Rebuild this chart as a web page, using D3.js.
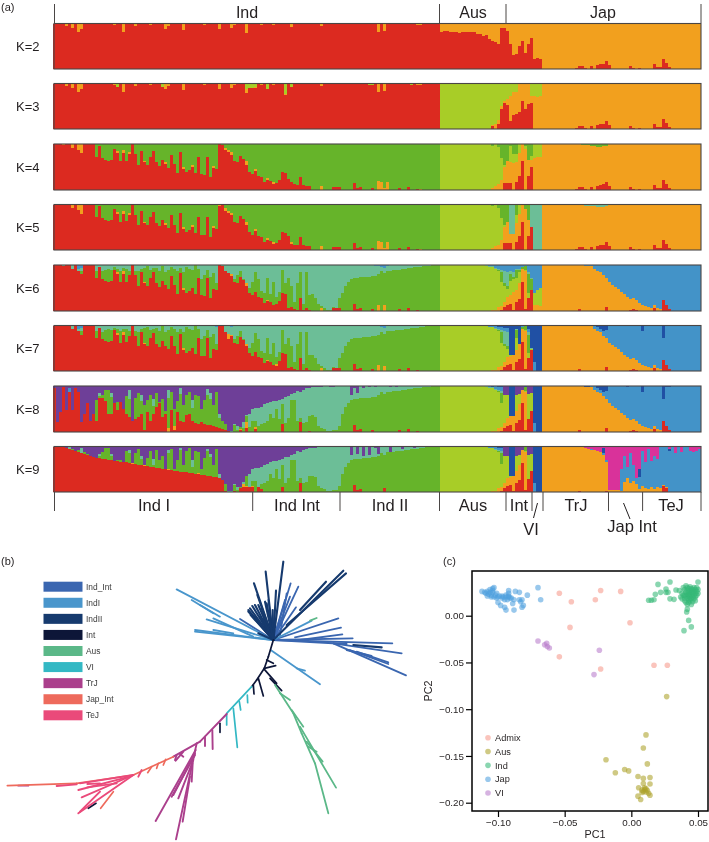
<!DOCTYPE html>
<html><head><meta charset="utf-8">
<script src="https://cdn.jsdelivr.net/npm/d3@7"></script>
<style>html,body{margin:0;padding:0;background:#fff}svg{display:block;filter:blur(0.35px)}text{font-family:"Liberation Sans",Arial,sans-serif;fill:#231f20}</style>
</head><body><svg id="c" width="709" height="842"></svg>
<script>
// ---------- (a) admixture bars: each array is the top edge (%) of a colour in a column ----------
const N=216;
const Ks=["K=2","K=3","K=4","K=5","K=6","K=7","K=8","K=9"];
const topGroups=["Ind","Aus","Jap"];
const bottomGroups=["Ind I","Ind Int","Ind II","Aus","Int","TrJ","TeJ"];
const patch=(a,p)=>{const b=a.slice();p.forEach(q=>{if(q.length===2)b[q[0]]=q[1];else for(let i=q[0];i<=q[1];i++)b[i]=q[2];});return b;};
const row=(i,m,j)=>[...i,...m,...j];
const I=v=>Array(129).fill(v),M=v=>Array(34).fill(v),J=v=>Array(53).fill(v);

const japSpikesA=[[174,3],[175,6],[176,6],[177,3],[179,6],[181,8],[182,10],[183,12],[184,18],[185,8],[192,6],[193,3],[195,3],[200,10],[201,4],[202,4],[203,22],[204,14],[205,4]];
const japSpikesB=[[175,5],[184,8],[192,3],[193,4],[194,3],[200,7],[203,24],[204,14],[205,4]];
const indTips=[[4,95],[6,90],[8,82],[9,88],[18,98],[19,98],[20,97],[23,82],[27,95],[29,98],[32,96],[37,88],[38,94],[43,86],[50,96],[55,88],[59,90],[60,96],[64,80],[69,96],[73,96],[79,93],[89,95],[108,82],[110,84],[121,96],[122,97]];

const midRed2=[82,83,83,82,81,81,80,82,81,81,81,82,78,76,72,75,66,62,60,56,91,90,84,56,30,34,50,62,36,55,68,22,24,22].slice(0,34);
const red2=patch(row(I(100),midRed2,J(0)),[...indTips,...japSpikesA]);

const midRed3=[0,0,0,0,0,0,0,0,0,0,0,0,0,0,0,0,0,6,0,10,45,58,52,18,30,34,38,62,44,56,58,0,0,0];
const midOr3=[0,0,0,0,0,0,0,0,0,0,0,0,0,0,0,0,0,8,10,20,50,62,66,72,82,82,100,100,100,100,72,72,70,72];
const red3=patch(row(I(100),midRed3,J(0)),[...indTips,[21,92],[36,92],[64,80],[65,90],[66,90],[67,90],[71,88],[77,75],[79,93],[105,96],[106,97],[112,98],[119,97],...japSpikesA]);
const or3=patch(row(I(100),midOr3,J(100)),[[21,92],[36,92],[64,88],[65,90],[66,90],[67,92],[71,88],[77,76],[79,93],[105,96],[106,97],[112,98],[119,97],[176,99],[178,99],[192,99],[198,99],[203,99]]);

const indRed4=[100,100,100,98,100,100,92,100,88,80,100,100,100,100,
 72,95,70,66,63,66,90,80,62,80,64,78,100,78,54,85,60,54,72,84,60,52,66,56,48,76,56,38,82,46,40,44,50,38,72,34,32,72,28,48,46,
 100,98,86,82,76,62,60,74,68,55,40,34,42,30,28,18,22,20,14,16,22,40,38,24,18,12,10,28,10,8,8,
 0,0,0,0,0,0,0,6,7,6,0,0,0,0,16,5,6,0,0,0,4,0,0,0,0,0,0,0,0,5,0,0,6,0,0,3,0,0,0,0,0,0,0];
const midRed4=[0,0,0,0,0,0,0,0,0,0,0,0,0,0,0,0,0,0,0,0,0,15,16,16,0,18,30,62,0,30,50,0,0,0];
const midOr4=[0,0,0,0,0,0,0,0,0,0,0,0,0,0,0,0,0,5,8,12,22,50,62,60,58,60,80,100,90,65,65,70,72,72];
const midLi4=[100,100,100,100,100,100,100,100,100,100,100,100,100,100,100,100,100,96,100,93,70,55,60,95,78,78,100,100,95,65,75,100,100,100];
const red4=patch(row(indRed4.slice(0,129),midRed4,J(0)),japSpikesA);
const indOrangeTips=[[0,13,100],[21,84],[23,86],[25,82],[30,62],[37,60],[43,50],[46,54],[53,52],[57,92],[58,86],[59,82],[64,62],[67,46],[71,26],[73,18],[89,8],[108,20],[109,18],[110,4],[111,18],[122,3]];
const or4=patch(red4,[...indOrangeTips,...midOr4.map((v,i)=>[129+i,v]),[163,175,100]]);
const or4Full=patch(or4,[[163,215,100],[176,98],[177,97],[178,97],[179,96],[180,96],[181,94],[182,94],[183,95],[184,96],[192,99],[198,99],[203,99]]);
const li4=row(I(0),midLi4,J(0));

const red5=patch(red4,[[15,97],[55,96],[79,14],[78,30]]);
const or5=patch(or4Full,[[152,35],[153,35],[159,50],[160,162,0],[55,100],[56,100]]);
const li5=patch(li4,[[152,35],[153,35],[159,50],[160,162,0],[157,72]]);
const gr5=patch(row(I(100),M(100),J(0)),[[6,98],[9,92],[55,94],[59,98],[107,99],[146,98],[147,97],[152,35],[153,35],[155,90],[159,50],[160,162,0]]);

const indGreen6=[0,0,0,0,0,0,0,0,0,88,0,0,0,0,
 88,85,86,90,92,90,95,92,88,93,92,88,100,88,86,92,94,97,90,93,94,88,98,85,90,96,92,86,93,85,96,92,90,100,92,70,78,90,75,82,60,
 100,94,85,78,72,70,78,88,70,60,50,62,84,70,44,40,72,38,62,30,42,90,60,72,55,20,60,85,15,85,35,36,28,16,10,6,3,2,8,4,28,40,55,64,70,72,72,73,74,74,75,76,77,80,86,82,87,88,89,90,90,91,92,93,94,95,95,96,97,98,98,99,100,100];
const red6Ind=patch(indRed4.slice(0,129),[[78,6],[79,8],[80,5],[81,3],[83,3],[84,6],[85,3],[89,0],[108,0],[110,0]]);
const midRed6=[0,0,0,0,0,0,0,0,0,0,0,0,0,0,0,0,0,0,0,0,2,8,14,16,2,20,26,64,4,28,46,0,0,0];
const midOr6=[0,0,0,0,0,0,0,0,0,0,0,0,0,0,0,0,1,2,3,8,10,20,30,34,42,46,60,92,88,28,46,14,12,10];
const midLi6=[100,100,100,100,100,100,100,100,100,100,100,100,100,100,100,98,96,96,92,88,62,55,48,66,70,72,85,92,90,40,46,40,45,50];
const midGr6=[100,100,100,100,100,100,100,100,100,100,100,100,100,100,100,98,96,96,92,90,85,60,55,80,75,90,90,96,98,80,70,40,45,50];
const midSe6=[100,100,100,100,100,100,100,100,100,100,100,100,100,100,100,99,97,97,94,92,90,88,85,88,85,92,92,96,98,85,72,40,45,50];
const japOr6=[100,100,100,100,100,100,100,100,100,100,100,100,100,100,98,98,98,92,88,85,78,72,62,57,53,48,42,36,30,27,28,24,18,14,10,9,7,14,6,4,24,14,4,1,0,0,0,0,0,0,0,0,0];
const red6=row(red6Ind,midRed6,patch(J(0),japSpikesB.map(p=>[p[0]-163,p[1]])));
const or6=patch(red6,[[89,6],[108,14],[110,12],[21,84],[23,86],[30,62],[43,50],[59,80],[64,60],[71,24],...midOr6.map((v,i)=>[129+i,v]),...japOr6.map((v,i)=>[163+i,v])]);
const li6=row(I(0),midLi6,J(0));
const gr6=row(indGreen6.slice(0,129),midGr6,J(0));
const se6=patch(row(I(100),midSe6,J(0)),[[5,96],[8,92],[9,94],[55,98],[107,98],[108,98],[109,96],[110,94],[111,98]]);

const red7=patch(red6,[[58,70],[74,12]]);
const or7=patch(or6,[[152,34],[153,35],[160,162,0]]);
const li7=patch(li6,[[152,35],[153,35],[155,50],[159,48],[160,162,0]]);
const gr7=patch(gr6,[[152,35],[153,35],[155,50],[159,48],[160,162,0]]);
const se7=patch(se6,[[152,35],[153,35],[155,50],[159,50],[160,162,0],[54,97],[57,98],[59,97]]);
const midBl7=[100,100,100,100,100,100,100,100,100,100,100,100,100,100,100,99,100,98,100,97,97,95,95,35,35,93,50,100,96,92,50,20,0,0];
const japBl7=[100,100,100,100,100,100,100,100,100,100,100,100,100,100,98,98,99,100,96,92,88,90,100,100,100,100,100,100,98,100,100,100,100,88,100,100,100,100,100,100,72,98,98,100,100,100,100,100,100,100,100,100,100];
const bl7=patch(row(I(100),midBl7,japBl7),[[54,98],[60,97]]);

const indRed8=[95,22,44,97,47,87,47,95,87,22,40,62,25,40,25,73,73,68,40,40,62,47,65,51,40,33,25,29,33,40,5,44,25,40,55,62,33,40,0,47,4,44,25,22,36,40,25,20,18,22,18,15,15,12,10,8,6,4,2,
 0,0,0,4,0,8,0,0,6,0,0,0,0,0,0,0,0,18,0,0,0,0,0,22,0,0,3,0,0,0,0,0,0,0,0,0,0,0,0,0,0,16,5,6,0,0,0,4,0,0,0,0,0,0,0,0,5,0,0,6,0,0,3,0,0,0,0,0,0,0];
const greenLate8=[0,0,15,5,10,8,35,10,25,25,12,18,20,25,40,30,50,28,60,20,30,70,70,25,30,20,22,35,36,32,14,8,6,2,2,4,4,14];
const indGreen8=[0,0,0,0,0,0,0,0,0,0,0,0,0,0,70,78,80,92,92,76,0,66,62,0,78,72,0,74,84,68,58,70,80,56,84,66,72,45,74,86,50,68,82,58,80,86,52,80,78,50,70,80,72,58,86,30,25,18,
 ...greenLate8,...indGreen6.slice(96,129)];
const indGreen9=[0,0,0,0,0,0,0,0,0,0,0,0,0,0,70,80,88,96,96,80,0,70,70,0,90,85,0,85,95,72,60,75,90,60,92,70,80,45,85,95,50,70,92,60,90,96,55,90,88,50,75,90,78,60,95,30,25,18,
 ...greenLate8,...indGreen6.slice(96,129)];
const purpleFloor8=[[58,2],[59,3],[60,18],[61,12],[62,10],[63,22],[64,36],[65,40],[66,50],[67,52],[68,52],[69,55],[70,60],[71,62],[72,66],[73,68],[74,68],[75,70],[76,72],[77,76],[78,78],[79,82],[80,84],[81,90],[82,88],[83,92],[84,95],[85,96],[86,97],[87,97],[88,98],[89,98],[90,99],[91,99],[92,98],[93,98],[94,99],[95,99],[96,128,100],
 [99,80],[100,96],[101,84],[103,96],[105,97],[107,97],[112,98],[114,98]];
const seafoamSpikes8=[[15,84],[19,84],[25,92],[29,80],[33,72],[38,92],[42,96],[46,70],[51,94],[52,84],[55,40]];
const ceil8=[[150,80],[151,80],[154,80],[155,82],[156,82],[158,82],[159,84]];
const red8=row(indRed8.slice(0,129),red7.slice(129,163),red7.slice(163));
const or8=patch(red8,[[3,98],[22,58],[38,8],[40,12],[62,6],[64,22],[67,10],...or7.slice(129).map((v,i)=>[129+i,v])]);
const li8=patch(li7,ceil8);
const gr8=patch(row(indGreen8.slice(0,129),gr7.slice(129,163),J(0)),ceil8);
const se8=patch(patch(gr8,purpleFloor8),[...seafoamSpikes8,...ceil8,...se7.slice(129,150).map((v,i)=>[129+i,v]),[152,35],[153,35],[157,98],[160,162,0],[163,215,0]]);
const bl8=patch(bl7,[[0,128,0],...ceil8,[5,96],[7,90]]);
const nv8=patch(row(I(0),M(100),J(100)),[...ceil8]);

const indRed9=[100,100,100,98,96,94,92,90,88,85,83,81,79,77,75,74,73,72,71,70,69,68,67,66,65,63,62,61,60,59,58,57,56,54,53,52,51,50,49,48,47,46,45,44,43,42,41,40,39,38,37,36,35,34,33,30,26,2,
 0,0,2,0,8,12,10,10,10,0,10,6,0,0,0,0,0,0,12,0,0,0,0,0,20,0,0,0,0,0,0,0,0,0,0,0,0,0,0,0,0,0,16,5,6,0,0,0,0,0,0,0,8,0,0,0,0,0,0,0,0,0,0,0,0,0,0,0,0,0,0];
const japOr9=[100,100,100,100,100,100,100,100,100,100,100,100,98,98,97,94,93,92,90,87,82,66,4,4,4,4,2,22,30,20,25,18,6,14,8,6,10,6,10,8,15,10,0,0,0,0,0,0,0,0,0,0,0];
const japBl9=[100,100,100,100,100,100,100,100,100,100,100,100,100,98,97,94,94,75,90,85,85,70,4,4,4,4,50,80,55,85,60,30,34,90,65,95,68,80,72,100,100,100,90,100,85,100,88,100,100,90,88,90,94];
const red9=patch(row(indRed9.slice(0,129),red8.slice(129,163),J(0)),[[203,14],[204,8],[175,3],[184,2]]);
const or9=patch(red9,[[10,84],[26,63],[30,60],[38,51],[48,41],[55,31],[63,18],[64,14],[66,14],...or8.slice(129,163).map((v,i)=>[129+i,v]),...japOr9.map((v,i)=>[163+i,v])]);
const li9=li8;
const gr9=patch(row(indGreen9.slice(0,129),gr8.slice(129,163),J(0)),[[3,97],[4,96],[6,95],[8,92],[10,88],[11,84]]);
const se9=patch(se8,[[5,98],[9,96],[99,82],[100,98],[101,84],[103,80],[105,82],[108,84],[112,88],[116,94],[120,96]]);
const bl9=row(bl8.slice(0,129),bl8.slice(129,163),japBl9);
const nv9=patch(row(I(0),nv8.slice(129,163),japBl9),[[183,96],[195,50],[203,100],[204,100],[205,94]]);
const pu9=patch(row(I(100),M(100),japBl9),[[183,96],[195,50],[203,100],[204,100],[205,94]]);

const palette={red:"#dc2a20",orange:"#f2a01e",lime:"#a8cd27",green:"#66b42a",seafoam:"#6cbe97",blue:"#4393c8",navy:"#2050a4",purple:"#6e3f98",magenta:"#d9329a"};
const panels=[
 {k:0,y0:23.5,y1:69,layers:[["red",red2],["orange",null]]},
 {k:1,y0:83.5,y1:129,layers:[["red",red3],["orange",or3],["lime",null]]},
 {k:2,y0:144,y1:190,layers:[["red",red4],["orange",or4Full],["lime",li4],["green",null]]},
 {k:3,y0:204.5,y1:250,layers:[["red",red5],["orange",or5],["lime",li5],["green",gr5],["seafoam",null]]},
 {k:4,y0:265,y1:311,layers:[["red",red6],["orange",or6],["lime",li6],["green",gr6],["seafoam",se6],["blue",null]]},
 {k:5,y0:325.5,y1:371,layers:[["red",red7],["orange",or7],["lime",li7],["green",gr7],["seafoam",se7],["blue",bl7],["navy",null]]},
 {k:6,y0:386,y1:432,layers:[["red",red8],["orange",or8],["lime",li8],["green",gr8],["seafoam",se8],["blue",bl8],["navy",nv8],["purple",null]]},
 {k:7,y0:446.5,y1:492,layers:[["red",red9],["orange",or9],["lime",li9],["green",gr9],["seafoam",se9],["blue",bl9],["navy",nv9],["purple",pu9],["magenta",null]]}
];
// ---------- (b) tree: branches per clade [x1,y1,x2,y2] in tree units ----------
const cladeNames=["Ind_Int","IndI","IndII","Int","Aus","VI","TrJ","Jap_Int","TeJ"];
const cladeColors=["#3a66b0","#4996cc","#163a6e","#0d1638","#5bb888","#33b8c4","#ab3f8c","#ee6a5c","#ea4a7a"];
const indIntB=[[820,270,872,100],[820,270,895,110],[820,270,855,150],[820,270,888,172],[820,270,720,207],[820,270,805,150],[820,270,1015,205],[885,262,1023,233],[900,270,1027,253],[820,270,1058,265],[820,270,1177,280],[1000,280,1205,310],[1000,280,1218,376],[1050,300,1165,342],[1040,300,1115,318],[820,270,1040,282],[1070,305,1165,337],[840,255,860,130],[820,270,870,140],[820,270,850,200]];
const indIB=[[820,270,530,118],[575,150,640,190],[600,165,660,200],[820,270,620,208],[820,270,585,240],[820,270,585,245],[700,250,640,240],[812,300,960,403],[890,355,915,362],[820,270,935,212],[760,260,640,205]];
const indIIB=[[820,270,850,35],[820,270,797,65],[820,270,762,100],[820,270,772,135],[820,270,745,180],[820,270,750,175],[820,270,757,168],[820,270,765,165],[820,270,775,165],[820,270,785,175],[820,270,795,155],[820,270,800,160],[820,270,818,180],[820,270,828,122],[820,270,1030,62],[860,225,1038,70],[900,180,978,95],[820,270,775,250],[820,270,745,185],[820,270,752,195],[820,270,765,200],[820,270,780,200],[820,270,790,210],[820,270,805,190],[1060,285,1145,292]];
const intB=[[820,270,805,320],[805,320,793,355],[793,355,770,390],[770,390,755,410],[793,355,827,347],[800,330,820,340],[793,358,830,400],[810,385,845,422],[775,385,790,438],[760,405,762,432],[660,520,660,547],[265,775,288,760]];
const ausB=[[825,405,880,490],[880,490,905,550],[905,550,945,640],[945,640,985,790],[840,430,870,450],[875,480,910,530],[900,530,1008,713],[920,575,968,635],[925,590,950,605],[930,212,950,204]];
const viB=[[755,410,680,490],[742,435,743,458],[718,455,722,480],[700,475,712,592],[680,492,680,525]];
const trjB=[[680,492,600,575],[600,575,520,620],[637,540,638,597],[615,560,615,588],[590,580,528,868],[587,600,467,813],[585,615,515,740],[580,630,535,745],[578,640,575,695],[570,680,548,815],[550,605,527,632],[540,612,550,620],[530,615,525,630],[585,610,520,735],[55,707,85,707]];
const japIntB=[[520,620,400,675],[497,628,490,645],[475,640,470,655],[455,650,443,668],[340,725,302,775],[400,675,230,700],[230,700,22,707]];
const tejB=[[400,675,235,790],[400,675,245,742],[380,682,235,720],[300,700,262,702],[425,660,415,680],[300,725,240,785],[350,700,262,712],[400,675,240,700],[230,703,170,708]];
const branches=[indIntB,indIB,indIIB,intB,ausB,viB,trjB,japIntB,tejB];
const cladeWidths=[1.8,1.8,2.1,1.7,1.8,1.7,1.9,1.7,1.9];
// ---------- (c) PCA ----------
const pcaGroups=["Admix","Aus","Ind","Jap","VI"];
const pcaColors=["#f79a8b","#aca22a","#35b877","#4fa0de","#b97ccb"];
const admix=[[-.054,.024],[-.045,.015],[-.023,.027],[-.027,.017],[-.008,.026],[-.001,-.0075],[-.046,-.0125],[-.054,-.044],[-.023,-.057],[.017,-.053],[.027,-.053]];
const aus=[[.0265,-.0865],[.011,-.1275],[.009,-.1415],[-.019,-.154],[-.012,-.168],[-.005,-.1645],[-.002,-.166],[.012,-.1585],[.005,-.172],[.009,-.174],[.014,-.173],[.009,-.1795],[.010,-.184],[.0055,-.184],[.008,-.1865],[.010,-.186],[.011,-.185],[.009,-.188],[.012,-.187],[.008,-.189],[.014,-.180],[.013,-.190],[.014,-.192],[.005,-.193],[.007,-.1965],[.011,-.1885]];
const ind=[[.020,.0335],[.029,.036],[.050,.036],[.022,.025],[.026,.0285],[.0275,.025],[.018,.023],[.017,.017],[.013,.0165],[.015,.0165],[.029,.018],[.032,.0175],[.026,.025],[.0335,.0275],[.0415,.004],[.042,.007],[.043,-.005],[.045,-.012],[.0395,-.016],
[.036,.027],[.037,.020],[.038,.018],[.038,.024],[.039,.030],[.039,.022],[.040,.028],[.040,.019],[.040,.016],[.041,.025],[.041,.021],[.041,.032],[.041,.014],[.042,.027],[.042,.023],[.042,.019],[.042,.012],[.043,.029],[.043,.025],[.043,.021],[.043,.017],[.043,.014],[.044,.031],[.044,.027],[.044,.023],[.044,.020],[.044,.016],[.045,.029],[.045,.025],[.045,.022],[.045,.018],[.045,.012],[.046,.028],[.046,.024],[.046,.020],[.046,.015],[.047,.030],[.047,.026],[.047,.022],[.047,.018],[.048,.028],[.048,.024],[.048,.020],[.048,.016],[.049,.030],[.049,.026],[.049,.022],[.050,.028],[.050,.024],[.040,.022],[.042,.030],[.044,.018],[.046,.026],[.043,.023]];
const jap=[[-.112,.026],[-.109,.024],[-.108,.026],[-.106,.028],[-.105,.022],[-.104,.025],[-.104,.029],[-.103,.030],[-.108,.021],[-.105,.020],[-.102,.022],[-.101,.024],[-.100,.020],[-.099,.021],[-.097,.019],[-.096,.020],[-.094,.022],[-.092,.024],[-.092,.027],[-.091,.019],[-.093,.017],[-.095,.017],[-.100,.014],[-.098,.011],[-.095,.009],[-.094,.006],[-.087,.026],[-.084,.025],[-.088,.017],[-.084,.017],[-.083,.015],[-.082,.017],[-.081,.011],[-.082,.009],[-.088,.006],[-.078,.022],[-.092,.021],[-.090,.019],[-.089,.013],[-.106,.025],[-.107,.023],[-.104,.027],[-.103,.020],[-.101,.019],[-.097,.021],[-.094,.020],[-.092,.020],[-.110,.025],[-.070,.030],[-.068,.017]];
const vi=[[-.070,-.027],[-.0635,-.0295],[-.065,-.031],[-.063,-.033],[-.0615,-.0345],[-.024,-.037],[-.028,-.063]];
const pcaData=[admix,aus,ind,jap,vi];
const pc1Ticks=[-.10,-.05,0,.05], pc2Ticks=[0,-.05,-.10,-.15,-.20];

// ---------- drawing ----------
const svg=d3.select("#c");
const txt=(g,x,y,s,size,anchor)=>g.append("text").attr("x",x).attr("y",y).attr("font-size",size).attr("text-anchor",anchor||"start").text(s);
const xb=d3.scaleBand(d3.range(N),[53,701]);
panels.forEach(p=>{
  const y=d3.scaleLinear([0,100],[p.y1,p.y0]);
  const g=svg.append("g");
  const segs=[];
  d3.range(N).forEach(c=>{
    let low=0;
    p.layers.forEach(([name,arr],i)=>{
      const t=arr?Math.max(low,Math.min(100,arr[c]||0)):100;
      if(t>low)segs.push({c,name,low,t});
      low=t;
    });
  });
  g.selectAll("rect").data(segs).join("rect")
   .attr("x",d=>xb(d.c)).attr("width",xb.bandwidth()+.3)
   .attr("y",d=>y(d.t)).attr("height",d=>y(d.low)-y(d.t))
   .attr("fill",d=>palette[d.name]).attr("shape-rendering","crispEdges");
  g.append("rect").attr("x",54).attr("y",p.y0).attr("width",647).attr("height",p.y1-p.y0)
   .attr("fill","none").attr("stroke","#4a4645").attr("stroke-width",1.1);
  txt(svg,16,(p.y0+p.y1)/2+5,Ks[p.k],13);
});
txt(svg,1,11,"(a)",11);
const tickLine=(x,y0,y1)=>svg.append("line").attr("x1",x).attr("x2",x).attr("y1",y0).attr("y2",y1).attr("stroke","#4a4645").attr("stroke-width",1);
const topTicks=[54.5,439.5,506,701], botTicks=[54.5,252.7,340,439.5,506,532,543,608.5,642.6,701];
topTicks.forEach(x=>tickLine(x,4,23));
botTicks.forEach(x=>tickLine(x,492,511));
const topCenters=[247,473,603], botCenters=[154,297,390,473,519,576,671];
topGroups.forEach((s,i)=>txt(svg,topCenters[i],17.5,s,16,"middle"));
bottomGroups.forEach((s,i)=>txt(svg,botCenters[i],511,s,16.5,"middle"));
txt(svg,531,535,"VI",16.5,"middle");
txt(svg,632,531.5,"Jap Int",16.5,"middle");
svg.append("line").attr("x1",537.5).attr("y1",503).attr("x2",533.5).attr("y2",518).attr("stroke","#231f20");
svg.append("line").attr("x1",623.5).attr("y1",503).attr("x2",630).attr("y2",519).attr("stroke","#231f20");

// tree
txt(svg,1,565,"(b)",11);
const tx=d3.scaleLinear([0,1290],[0,430]), ty=d3.scaleLinear([0,876],[550,842]);
branches.forEach((list,i)=>{
  svg.append("g").selectAll("line").data(list).join("line")
   .attr("x1",d=>tx(d[0])).attr("y1",d=>ty(d[1])).attr("x2",d=>tx(d[2])).attr("y2",d=>ty(d[3]))
   .attr("stroke",cladeColors[i]).attr("stroke-width",cladeWidths[i]).attr("stroke-linecap","round");
});
const legY=d3.scalePoint(cladeNames,[586.7,715.3]);
cladeNames.forEach((n,i)=>{
  svg.append("rect").attr("x",43.5).attr("y",legY(n)-5).attr("width",39).attr("height",10).attr("fill",cladeColors[i]);
  txt(svg,86,legY(n)+3,n,8.4).style("fill","#3a3a3a");
});

// PCA
txt(svg,443,565,"(c)",11);
const px=d3.scaleLinear([-.10,.05],[498,698]), py=d3.scaleLinear([0,-.20],[615.7,802.7]);
const fmt=v=>(v<0?"\u2212":"")+Math.abs(v).toFixed(2);
svg.append("g").attr("transform","translate(0,811)").call(d3.axisBottom(px).tickValues(pc1Ticks).tickFormat(fmt).tickSize(6).tickPadding(2))
 .call(g=>{g.select(".domain").remove();g.selectAll("text").attr("font-size",9.8);g.selectAll("line").attr("stroke-width",1.2);});
svg.append("g").attr("transform","translate(472,0)").call(d3.axisLeft(py).tickValues(pc2Ticks).tickFormat(fmt).tickSize(6).tickPadding(2))
 .call(g=>{g.select(".domain").remove();g.selectAll("text").attr("font-size",9.8);g.selectAll("line").attr("stroke-width",1.2);});
pcaData.forEach((pts,i)=>{
  svg.append("g").selectAll("circle").data(pts).join("circle")
   .attr("cx",d=>px(d[0])).attr("cy",d=>py(d[1])).attr("r",2.8)
   .attr("fill",pcaColors[i]).attr("fill-opacity",.58);
});
svg.append("rect").attr("x",472).attr("y",571).attr("width",236).attr("height",240).attr("fill","none").attr("stroke","#000").attr("stroke-width",1.5);
txt(svg,595,838,"PC1",10.8,"middle");
svg.append("text").attr("transform","translate(432,691) rotate(-90)").attr("text-anchor","middle").attr("font-size",10.8).text("PC2");
const pl=d3.scalePoint(pcaGroups,[737.7,793]);
pcaGroups.forEach((n,i)=>{
  svg.append("circle").attr("cx",488).attr("cy",pl(n)).attr("r",2.8).attr("fill",pcaColors[i]).attr("fill-opacity",.58);
  txt(svg,495,pl(n)+3.2,n,9.2);
});
</script></body></html>
